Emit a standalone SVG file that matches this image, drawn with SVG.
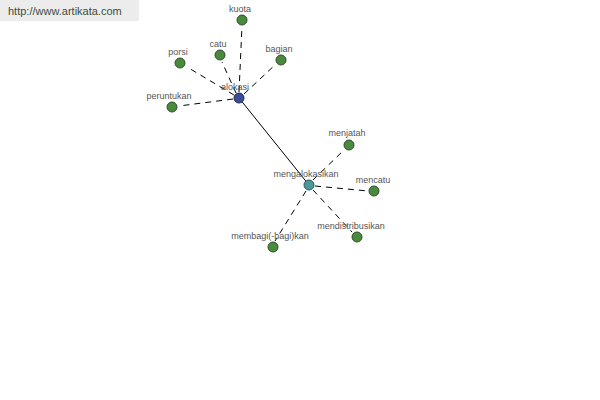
<svg xmlns="http://www.w3.org/2000/svg" width="600" height="400" viewBox="0 0 600 400">
<style>
.lbl{font-family:"Liberation Sans",Arial,sans-serif;font-size:9px;fill:#555;text-anchor:middle}
.leaf{fill:#4a8a3c;stroke:#2f4f2a;stroke-width:1}
.d{stroke:#000;stroke-width:1;stroke-dasharray:6,5;fill:none}
</style>
<rect x="0" y="0" width="600" height="400" fill="#fff"/>
<rect x="0" y="0" width="139" height="21" fill="#ececec"/>
<text x="8" y="15" style="font-family:'Liberation Sans',Arial,sans-serif;font-size:11px;fill:#3d4d3d">http://www.artikata.com</text>
<g id="connectors">
<line x1="239" y1="98" x2="309" y2="185" stroke="#000" stroke-width="1"/>
<line class="d" x1="239" y1="92" x2="242" y2="26"/>
<line class="d" x1="236" y1="93" x2="222" y2="62"/>
<line class="d" x1="234" y1="95" x2="187" y2="67"/>
<line class="d" x1="244" y1="94" x2="276" y2="64"/>
<line class="d" x1="233" y1="99" x2="179" y2="106"/>
<line class="d" x1="313" y1="180" x2="344" y2="150"/>
<line class="d" x1="315" y1="186" x2="368" y2="191"/>
<line class="d" x1="313" y1="190" x2="352" y2="232"/>
<line class="d" x1="306" y1="191" x2="275" y2="241"/>
</g>
<g id="alokasi"><circle cx="239" cy="98" r="5" fill="#3b4d96" stroke="#1e2a55"/><text class="lbl" x="235" y="90">alokasi</text></g>
<g id="kuota"><circle class="leaf" cx="242" cy="20" r="5"/><text class="lbl" x="240" y="12">kuota</text></g>
<g id="catu"><circle class="leaf" cx="220" cy="55" r="5"/><text class="lbl" x="218" y="47">catu</text></g>
<g id="porsi"><circle class="leaf" cx="180" cy="63" r="5"/><text class="lbl" x="178" y="55">porsi</text></g>
<g id="bagian"><circle class="leaf" cx="281" cy="60" r="5"/><text class="lbl" x="279" y="52">bagian</text></g>
<g id="peruntukan"><circle class="leaf" cx="172" cy="107" r="5"/><text class="lbl" x="169" y="99">peruntukan</text></g>
<g id="mengalokasikan"><circle cx="309" cy="185" r="5" fill="#4a9a9c" stroke="#2a5a5a"/><text class="lbl" x="306" y="177">mengalokasikan</text></g>
<g id="menjatah"><circle class="leaf" cx="349" cy="145" r="5"/><text class="lbl" x="347" y="136">menjatah</text></g>
<g id="mencatu"><circle class="leaf" cx="374" cy="191" r="5"/><text class="lbl" x="373" y="183">mencatu</text></g>
<g id="mendistribusikan"><circle class="leaf" cx="357" cy="237" r="5"/><text class="lbl" x="351" y="229">mendistribusikan</text></g>
<g id="membagikan"><circle class="leaf" cx="273" cy="247" r="5"/><text class="lbl" x="270" y="239">membagi(-bagi)kan</text></g>
</svg>
